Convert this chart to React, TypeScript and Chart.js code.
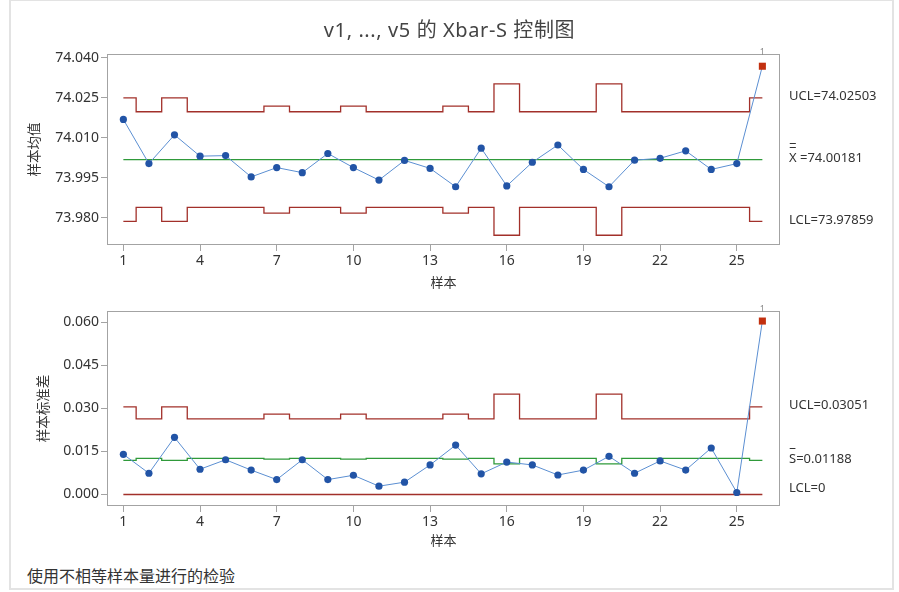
import React, { useEffect, useRef } from "react";
import { Chart, registerables } from "chart.js";

Chart.register(...registerables);

const FONT = "'Segoe UI', 'Noto Sans', 'Noto Sans CJK SC', sans-serif";

// ---- data ----
const samples = [1, 2, 3, 4, 5, 6, 7, 8, 9, 10, 11, 12, 13, 14, 15, 16, 17, 18, 19, 20, 21, 22, 23, 24, 25, 26];
const sampleSizes = [3, 5, 3, 5, 5, 5, 4, 5, 5, 4, 5, 5, 5, 4, 5, 2, 5, 5, 5, 2, 5, 5, 5, 5, 5, 3];
const xbarValues = [
  74.0169, 74.0003, 74.0111, 74.0031, 74.0033, 73.9953, 73.9988, 73.9969, 74.0041, 73.9988,
  73.9941, 74.0015, 73.9985, 73.9916, 74.0061, 73.9919, 74.0008, 74.0073, 73.9981, 73.9916,
  74.0016, 74.0023, 74.0051, 73.9981, 74.0003, 74.0369,
];
const sValues = [
  0.0140, 0.0074, 0.0199, 0.0088, 0.0121, 0.0085, 0.0052, 0.0121, 0.0052, 0.0067,
  0.0029, 0.0043, 0.0103, 0.0172, 0.0072, 0.0113, 0.0103, 0.0068, 0.0085, 0.0133,
  0.0074, 0.0117, 0.0085, 0.0162, 0.0007, 0.0604,
];
const xbarCenter = 74.00181;
const xbarUCLByN: Record<number, number> = { 2: 74.03025, 3: 74.02503, 4: 74.02192, 5: 74.0198 };
const xbarLCLByN: Record<number, number> = { 2: 73.97337, 3: 73.97859, 4: 73.9817, 5: 73.98382 };
const sUCLByN: Record<number, number> = { 2: 0.03494, 3: 0.03051, 4: 0.02799, 5: 0.02632 };
const sCenterByN: Record<number, number> = { 2: 0.0107, 3: 0.01188, 4: 0.01235, 5: 0.0126 };
const sLCL = 0;
const xTicks = [1, 4, 7, 10, 13, 16, 19, 22, 25];
const xbarTicks = [73.98, 73.995, 74.01, 74.025, 74.04];
const sTicks = [0, 0.015, 0.03, 0.045, 0.06];
const outOfControl = [26];

const BLUE_PT = "#2254a6";
const BLUE_LINE = "#5b8fd2";
const RED = "#a2302a";
const GREEN = "#2f9a3a";
const FLAG = "#c2300f";

type LabelSpec = { text: string; value: number; bars?: number; dy?: number };

function overlayPlugin(labels: LabelSpec[]) {
  return {
    id: "overlay",
    afterDraw(chart: any) {
      const { ctx, chartArea, scales } = chart;
      ctx.save();
      ctx.strokeStyle = "#a3a3a3";
      ctx.lineWidth = 1;
      ctx.strokeRect(chartArea.left + 0.5, chartArea.top + 0.5, chartArea.width - 1, chartArea.height - 1);
      ctx.font = `13px ${FONT}`;
      ctx.fillStyle = "#333";
      ctx.textBaseline = "middle";
      ctx.textAlign = "left";
      const x0 = chartArea.right + 9;
      labels.forEach((l) => {
        const y = scales.y.getPixelForValue(l.value) + (l.dy ?? -1.5);
        ctx.fillText(l.text, x0, y);
        if (l.bars) {
          const w = ctx.measureText(l.text[0]).width;
          ctx.strokeStyle = "#333";
          ctx.lineWidth = 1;
          for (let i = 0; i < l.bars; i++) {
            const by = Math.round(y - 11 - i * 4) + 0.5;
            ctx.beginPath();
            ctx.moveTo(x0 + w * 0.1, by);
            ctx.lineTo(x0 + w * 0.9, by);
            ctx.stroke();
          }
        }
      });
      ctx.font = `9px ${FONT}`;
      ctx.fillStyle = "#8a8a8a";
      ctx.textAlign = "center";
      ctx.textBaseline = "bottom";
      outOfControl.forEach((s) => {
        ctx.fillText("1", scales.x.getPixelForValue(s), chartArea.top + 3);
      });
      ctx.restore();
    },
  };
}

function buildConfig(opts: {
  values: number[];
  center: number[];
  ucl: number[];
  lcl: number[];
  yMin: number;
  yMax: number;
  yTicks: number[];
  yTitle: string;
  yTitlePad: number;
  padTop: number;
  xHeight: number;
  xTitlePad: number;
  labels: LabelSpec[];
}) {
  const pts = (arr: number[]) => arr.map((v, i) => ({ x: samples[i], y: v }));
  const isFlag = samples.map((s) => outOfControl.includes(s));
  const limitDs = (arr: number[], color: string, stepped: any) => ({
    data: pts(arr),
    borderColor: color,
    borderWidth: 1.3,
    pointRadius: 0,
    stepped,
    fill: false,
  });
  return {
    type: "line" as const,
    data: {
      datasets: [
        {
          data: pts(opts.values),
          borderColor: BLUE_LINE,
          borderWidth: 1,
          pointStyle: isFlag.map((f) => (f ? "rect" : "circle")),
          pointRadius: isFlag.map((f) => (f ? 5 : 3.6)),
          pointBackgroundColor: isFlag.map((f) => (f ? FLAG : BLUE_PT)),
          pointBorderColor: isFlag.map((f) => (f ? FLAG : BLUE_PT)),
          pointBorderWidth: 0,
          fill: false,
        },
        limitDs(opts.center, GREEN, "middle"),
        limitDs(opts.ucl, RED, "middle"),
        limitDs(opts.lcl, RED, "middle"),
      ],
    },
    options: {
      animation: false,
      responsive: false,
      devicePixelRatio: 1,
      layout: { padding: { top: opts.padTop, right: 119, bottom: 0, left: 0 } },
      plugins: { legend: { display: false }, tooltip: { enabled: false } },
      elements: { line: { tension: 0 } },
      scales: {
        x: {
          type: "linear",
          min: 0.36,
          max: 26.69,
          afterBuildTicks: (scale: any) => {
            scale.ticks = xTicks.map((v) => ({ value: v }));
          },
          afterFit: (scale: any) => {
            scale.height = opts.xHeight;
          },
          ticks: {
            autoSkip: false,
            maxRotation: 0,
            padding: 2,
            color: "#333",
            font: { size: 14, family: FONT },
            callback: (v: any) => String(v),
          },
          grid: { drawOnChartArea: false, drawTicks: true, tickLength: 6, color: "#a3a3a3" },
          border: { display: false },
          title: {
            display: true,
            text: "样本",
            color: "#333",
            font: { size: 13, family: FONT },
            padding: { top: 0, bottom: opts.xTitlePad },
          },
        },
        y: {
          type: "linear",
          min: opts.yMin,
          max: opts.yMax,
          afterBuildTicks: (scale: any) => {
            scale.ticks = opts.yTicks.map((v) => ({ value: v }));
          },
          afterFit: (scale: any) => {
            scale.width = 107;
          },
          ticks: {
            padding: 2,
            color: "#333",
            font: { size: 14, family: FONT },
            callback: (v: any) => Number(v).toFixed(3),
          },
          grid: { drawOnChartArea: false, drawTicks: true, tickLength: 6, color: "#a3a3a3" },
          border: { display: false },
          title: {
            display: true,
            text: opts.yTitle,
            color: "#333",
            font: { size: 13.5, family: FONT },
            padding: { top: opts.yTitlePad, bottom: 0 },
          },
        },
      },
    },
    plugins: [overlayPlugin(opts.labels)],
  };
}

export default function App() {
  const topRef = useRef<HTMLCanvasElement>(null);
  const botRef = useRef<HTMLCanvasElement>(null);

  useEffect(() => {
    const top = new Chart(
      topRef.current!,
      buildConfig({
        values: xbarValues,
        center: samples.map(() => xbarCenter),
        ucl: sampleSizes.map((n) => xbarUCLByN[n]),
        lcl: sampleSizes.map((n) => xbarLCLByN[n]),
        yMin: 73.9697,
        yMax: 74.0415,
        yTicks: xbarTicks,
        yTitle: "样本均值",
        yTitlePad: 27,
        padTop: 54,
        xHeight: 55,
        xTitlePad: 9,
        labels: [
          { text: "UCL=74.02503", value: xbarUCLByN[sampleSizes[sampleSizes.length - 1]] },
          { text: "X =74.00181", value: xbarCenter, bars: 2 },
          { text: "LCL=73.97859", value: xbarLCLByN[sampleSizes[sampleSizes.length - 1]] },
        ],
      }) as any
    );
    const bot = new Chart(
      botRef.current!,
      buildConfig({
        values: sValues,
        center: sampleSizes.map((n) => sCenterByN[n]),
        ucl: sampleSizes.map((n) => sUCLByN[n]),
        lcl: samples.map(() => sLCL),
        yMin: -0.004,
        yMax: 0.0639,
        yTicks: sTicks,
        yTitle: "样本标准差",
        yTitlePad: 36,
        padTop: 15,
        xHeight: 54,
        xTitlePad: 11,
        labels: [
          { text: "UCL=0.03051", value: sUCLByN[sampleSizes[sampleSizes.length - 1]] },
          { text: "S=0.01188", value: sCenterByN[sampleSizes[sampleSizes.length - 1]], bars: 1 },
          { text: "LCL=0", value: sLCL, dy: -6.5 },
        ],
      }) as any
    );
    return () => {
      top.destroy();
      bot.destroy();
    };
  }, []);

  return (
    <div
      style={{
        position: "fixed",
        left: 0,
        top: 0,
        width: 899,
        height: 592,
        background: "#fff",
        fontFamily: FONT,
        overflow: "hidden",
      }}
    >
      <div
        style={{
          position: "absolute",
          left: 9,
          top: -1,
          width: 885,
          height: 591,
          border: "2px solid #e3e3e3",
          boxSizing: "border-box",
        }}
      />
      <canvas ref={topRef} width={899} height={300} style={{ position: "absolute", left: 0, top: 0, width: 899, height: 300 }} />
      <canvas ref={botRef} width={899} height={264} style={{ position: "absolute", left: 0, top: 296, width: 899, height: 264 }} />
      <div
        style={{
          position: "absolute",
          left: 0,
          top: 18,
          width: 899,
          textAlign: "center",
          fontSize: 20,
          letterSpacing: "0.6px",
          lineHeight: "24px",
          color: "#444",
        }}
      >
        v1, ..., v5 的 Xbar-S 控制图
      </div>
      <div
        style={{
          position: "absolute",
          left: 27,
          top: 566,
          fontSize: 16,
          lineHeight: "20px",
          color: "#333",
        }}
      >
        使用不相等样本量进行的检验
      </div>
    </div>
  );
}
